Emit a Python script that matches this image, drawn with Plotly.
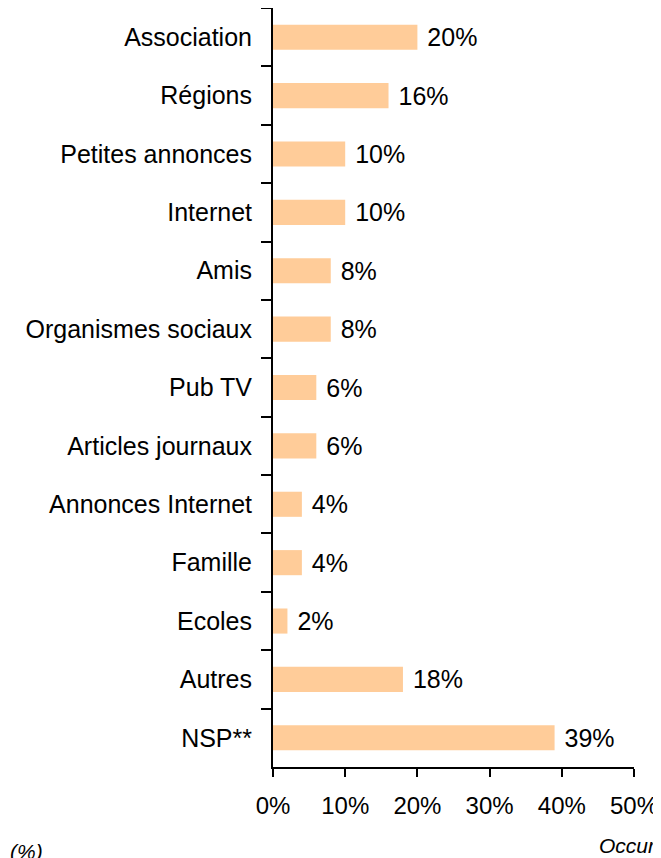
import plotly.graph_objects as go

categories = ["Association", "Régions", "Petites annonces", "Internet", "Amis",
              "Organismes sociaux", "Pub TV", "Articles journaux", "Annonces Internet",
              "Famille", "Ecoles", "Autres", "NSP**"]
values = [20, 16, 10, 10, 8, 8, 6, 6, 4, 4, 2, 18, 39]
x_ticks = [0, 10, 20, 30, 40, 50]

FONT = "Liberation Sans, Arial, Helvetica, sans-serif"

fig = go.Figure(go.Bar(
    y=categories, x=values, orientation="h",
    marker=dict(color="#FFCC99", line=dict(width=0)),
    text=[f" {v}%" for v in values], textposition="outside",
    textfont=dict(family=FONT, size=25, color="#000000"),
    constraintext="none",
    cliponaxis=False, width=0.43,
))

# figure sits 8px inside the page (browser body margin)
W, H = 653, 850
L, R, T, B = 265, 27, 0, 91
PW, PH = W - L - R, H - T - B

fig.update_layout(
    width=W, height=H,
    margin=dict(l=L, r=R, t=T, b=B, autoexpand=False),
    plot_bgcolor="white", paper_bgcolor="white",
    font=dict(family=FONT, size=25, color="#000000"),
    showlegend=False,
)
fig.update_yaxes(
    categoryorder="array", categoryarray=categories, autorange="reversed",
    showline=True, linecolor="black", linewidth=2,
    ticks="outside", tickson="boundaries", ticklen=10, tickwidth=2, tickcolor="black",
    showgrid=False, zeroline=False, ticklabelstandoff=14,
)
fig.update_xaxes(
    range=[0, 50], tickvals=x_ticks, ticktext=[f"{t}%" for t in x_ticks],
    showline=True, linecolor="black", linewidth=2,
    ticks="outside", ticklen=8, tickwidth=2, tickcolor="black",
    tickfont=dict(size=24),
    showgrid=False, zeroline=False, ticklabelstandoff=8,
)
fig.add_annotation(text="<i>(%)</i>", xref="paper", yref="paper",
                   x=(0 - L) / PW, y=(PH - 843) / PH,
                   xanchor="left", yanchor="middle", showarrow=False,
                   font=dict(family=FONT, size=21))
fig.add_annotation(text="<i>Occurrences</i>", xref="paper", yref="paper",
                   x=(589 - L) / PW, y=(PH - 837) / PH,
                   xanchor="left", yanchor="middle", showarrow=False,
                   font=dict(family=FONT, size=21))

fig.write_html("out.html")
